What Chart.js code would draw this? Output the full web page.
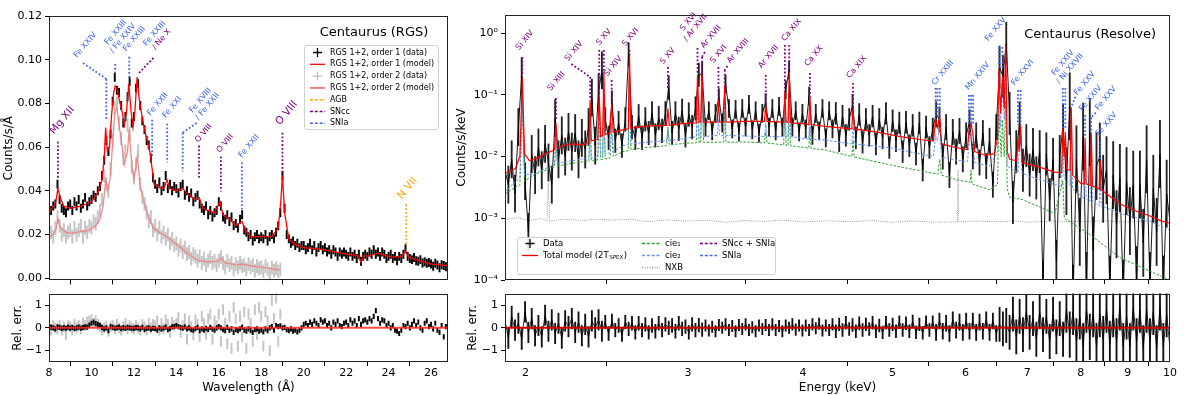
<!DOCTYPE html>
<html>
<head>
<meta charset="utf-8">
<script src="https://cdn.jsdelivr.net/npm/chart.js@4.4.1/dist/chart.umd.min.js"></script>
<style>
  body { margin: 0; background: #fff; width: 1200px; height: 395px; overflow: hidden; }
  canvas { position: absolute; }
</style>
</head>
<body>
<canvas id="lt" width="460" height="290" style="left:0px;top:0px"></canvas>
<canvas id="lb" width="460" height="111" style="left:0px;top:284px"></canvas>
<canvas id="rt" width="755" height="290" style="left:445px;top:0px"></canvas>
<canvas id="rb" width="755" height="111" style="left:445px;top:284px"></canvas>
<script>
Chart.defaults.font.family = '"DejaVu Sans", sans-serif';
Chart.defaults.font.size = 11;
Chart.defaults.color = '#000';

// ---------- RGS panel (left) ----------
const WL0 = 8.0, WL_STEP = 0.1;   // bin grid of the RGS spectra
const rgs1Flux = [
  0.029,0.031,0.033,0.034,0.043,0.036,0.032,0.031,0.030,0.033,
  0.034,0.031,0.035,0.033,0.036,0.032,0.034,0.037,0.033,0.035,
  0.036,0.038,0.037,0.040,0.042,0.047,0.054,0.063,0.058,0.066,
  0.081,0.092,0.086,0.085,0.079,0.071,0.074,0.083,0.090,0.071,
  0.074,0.087,0.089,0.079,0.072,0.068,0.063,0.061,0.055,0.046,
  0.043,0.041,0.044,0.040,0.042,0.047,0.041,0.043,0.040,0.042,
  0.041,0.039,0.042,0.043,0.038,0.040,0.037,0.039,0.035,0.037,
  0.038,0.034,0.032,0.031,0.033,0.029,0.031,0.028,0.030,0.031,
  0.035,0.033,0.028,0.027,0.029,0.026,0.028,0.024,0.025,0.023,
  0.027,0.029,0.022,0.021,0.019,0.020,0.017,0.019,0.020,0.018,
  0.019,0.018,0.020,0.017,0.019,0.020,0.018,0.021,0.024,0.030,
  0.047,0.032,0.020,0.018,0.016,0.017,0.015,0.016,0.014,0.015,
  0.015,0.013,0.014,0.016,0.013,0.015,0.012,0.014,0.015,0.013,
  0.014,0.012,0.013,0.011,0.013,0.012,0.010,0.012,0.011,0.012,
  0.011,0.010,0.012,0.010,0.011,0.009,0.011,0.0078,0.010,0.011,
  0.010,0.012,0.011,0.013,0.011,0.012,0.010,0.012,0.011,0.009,
  0.010,0.011,0.009,0.010,0.008,0.010,0.009,0.011,0.0135,0.010,
  0.009,0.0085,0.0095,0.008,0.0078,0.0085,0.007,0.0075,0.0068,0.0072,
  0.0065,0.0055,0.0068,0.006,0.0048,0.0062,0.0058,0.0052
];
const rgs1Err = 0.0019;
const rgs2Flux = [
  0.017,0.021,0.019,0.023,0.028,0.024,0.020,0.022,0.019,0.021,
  0.022,0.019,0.023,0.020,0.022,0.024,0.019,0.023,0.021,0.024,
  0.023,0.026,0.025,0.028,0.031,0.036,0.047,0.043,0.040,0.050,
  0.063,0.078,0.080,0.071,0.064,0.055,0.058,0.070,0.066,0.051,
  0.046,0.052,0.058,0.043,0.037,0.034,0.030,0.026,0.028,0.022,
  0.024,0.020,0.023,0.019,0.021,0.018,0.020,0.016,0.018,0.015,
  0.016,0.013,0.015,0.012,0.014,0.011,0.012,0.009,0.011,0.010,
  0.008,0.010,0.007,0.009,0.006,0.008,0.0095,0.007,0.008,0.006,
  0.008,0.0095,0.007,0.005,0.008,0.006,0.007,0.004,0.0065,0.005,
  0.007,0.0055,0.006,0.004,0.0065,0.005,0.006,0.0035,0.0055,0.0045,
  0.005,0.003,0.0055,0.004,0.002,0.005,0.0035,0.0045,0.003,0.004
];
const rgs2Err = 0.003;
const rgs1Res = [
  -0.02,0.03,0.0,-0.05,0.04,0.02,-0.03,0.01,-0.02,0.03,
  -0.01,0.02,-0.04,0.0,0.03,-0.02,0.01,0.04,0.03,0.12,
  0.2,0.25,0.18,0.15,0.1,0.02,-0.05,0.0,-0.12,0.05,
  0.02,-0.02,0.0,0.03,-0.04,0.01,-0.03,0.02,0.0,-0.02,
  -0.03,0.01,0.0,-0.05,0.02,-0.08,-0.03,0.0,-0.06,-0.02,
  -0.04,-0.1,0.0,-0.06,-0.02,0.03,-0.08,-0.03,0.04,0.05,
  0.1,0.05,0.02,-0.02,0.04,-0.05,0.0,-0.08,-0.1,-0.04,
  0.02,-0.12,-0.05,-0.1,-0.02,-0.08,0.02,-0.06,-0.1,0.0,
  0.05,0.0,-0.08,-0.12,0.02,-0.1,-0.05,-0.2,-0.08,-0.12,
  -0.05,0.03,-0.1,-0.15,-0.05,-0.12,-0.2,-0.08,-0.05,-0.15,
  -0.1,-0.18,-0.05,-0.12,0.0,0.05,-0.1,0.1,0.05,0.08,
  0.0,0.02,-0.08,-0.12,-0.05,-0.15,-0.1,-0.18,-0.1,0.0,
  0.15,0.2,0.1,0.25,0.15,0.3,0.2,0.1,0.35,0.25,
  0.3,0.1,0.2,0.0,0.25,0.15,0.3,0.1,0.05,0.2,
  0.25,0.1,0.35,0.2,0.3,0.1,0.4,0.15,0.3,0.35,
  0.25,0.4,0.3,0.5,0.75,0.4,0.2,0.35,0.3,0.1,
  0.2,0.0,0.1,-0.1,-0.15,-0.25,-0.1,0.1,0.05,0.2,
  0.0,0.15,0.3,0.1,0.25,0.0,-0.1,0.2,0.3,0.05,
  0.15,-0.05,0.2,-0.1,-0.2,0.1,-0.4,0.05
];
const rgs1ResErr = 0.1;
const rgs2Res = [
  0.05,-0.1,0.1,0.0,-0.05,0.12,-0.1,0.05,-0.3,0.1,
  0.05,-0.1,0.15,0.0,0.1,-0.05,0.2,0.1,0.25,0.3,
  0.35,0.2,0.3,0.15,0.05,-0.1,0.0,0.1,-0.15,0.05,
  0.1,-0.05,0.15,0.0,-0.1,0.05,0.2,-0.05,0.1,0.0,
  -0.05,0.1,0.0,-0.1,0.15,0.05,-0.1,0.2,0.0,0.15,
  0.1,0.3,-0.1,0.2,-0.05,0.35,0.15,-0.2,0.25,0.1,
  0.2,0.45,-0.2,0.1,0.4,-0.5,0.3,0.05,-0.3,0.35,
  0.15,-0.4,0.5,0.2,-0.3,0.4,0.6,-0.5,0.3,0.1,
  0.6,-0.6,0.8,0.2,-0.7,0.5,-0.9,0.9,0.4,-0.8,
  0.5,-0.4,0.7,-0.9,0.6,0.2,-0.6,0.8,-0.3,0.9,
  0.5,-0.8,0.7,0.3,-1.0,1.2,0.4,1.3,-0.6,0.6
];
const rgs2ResErr = 0.22;
const rgsModel1 = [[8.0,0.030],[8.2,0.033],[8.32,0.035],[8.42,0.041],[8.52,0.037],[8.7,0.033],[9.0,0.032],[9.5,0.033],[10.0,0.035],[10.3,0.039],[10.5,0.045],[10.6,0.055],[10.67,0.069],[10.75,0.058],[10.85,0.06],[10.95,0.075],[11.05,0.085],[11.12,0.088],[11.2,0.087],[11.3,0.082],[11.45,0.076],[11.55,0.07],[11.65,0.076],[11.76,0.089],[11.86,0.077],[11.96,0.069],[12.05,0.077],[12.15,0.092],[12.25,0.082],[12.4,0.073],[12.55,0.066],[12.75,0.058],[12.86,0.05],[12.95,0.043],[13.1,0.042],[13.3,0.041],[13.45,0.042],[13.56,0.045],[13.7,0.041],[14.0,0.040],[14.3,0.041],[14.6,0.038],[14.9,0.036],[15.07,0.037],[15.25,0.032],[15.5,0.031],[15.8,0.030],[16.05,0.035],[16.2,0.029],[16.5,0.027],[16.8,0.024],[17.09,0.026],[17.25,0.022],[17.5,0.019],[18.0,0.019],[18.5,0.019],[18.8,0.023],[18.92,0.035],[19.0,0.047],[19.1,0.03],[19.3,0.018],[19.6,0.0155],[20.0,0.014],[21.0,0.013],[22.0,0.011],[22.55,0.0105],[22.7,0.0073],[22.85,0.0105],[23.0,0.010],[23.5,0.0115],[24.0,0.0099],[24.6,0.0098],[24.8,0.0125],[24.95,0.0095],[26.0,0.0064],[26.8,0.0059]];
const rgsModel2 = [[8.0,0.019],[8.2,0.020],[8.32,0.022],[8.42,0.027],[8.55,0.023],[8.8,0.021],[9.0,0.0205],[9.3,0.021],[9.6,0.0215],[9.9,0.022],[10.2,0.024],[10.4,0.027],[10.55,0.033],[10.67,0.045],[10.77,0.040],[10.9,0.047],[11.0,0.062],[11.1,0.075],[11.2,0.078],[11.3,0.070],[11.45,0.060],[11.55,0.052],[11.7,0.058],[11.78,0.068],[11.9,0.052],[12.0,0.045],[12.08,0.050],[12.16,0.056],[12.3,0.042],[12.5,0.034],[12.7,0.028],[12.9,0.023],[13.2,0.021],[13.56,0.019],[13.8,0.017],[14.2,0.014],[14.5,0.0115],[14.8,0.0095],[15.07,0.008],[15.5,0.0075],[16.0,0.0078],[16.1,0.0092],[16.3,0.007],[16.9,0.006],[17.09,0.0065],[17.6,0.0055],[18.4,0.0045],[18.9,0.0037]];
const wlTicks = [8, 10, 12, 14, 16, 18, 20, 22, 24, 26];
const countsTicks = [0, 0.02, 0.04, 0.06, 0.08, 0.10, 0.12];
const relTicks = [-1, 0, 1];

// ---------- Resolve panel (right) ----------
const E0 = 1.9, E1 = 10, N_BINS = 200;   // log-spaced bins
const resolveFlux = [
  0.006,0.0035,0.009,0.0025,0.03,0.2,0.004,0.0006,0.011,0.005,
  0.014,0.006,0.016,0.008,0.0035,0.042,0.009,0.022,0.01,0.025,
  0.012,0.024,0.009,0.02,0.013,0.03,0.09,0.015,0.11,0.25,
  0.04,0.02,0.075,0.018,0.035,0.015,0.04,0.45,0.03,0.02,
  0.045,0.02,0.04,0.024,0.05,0.022,0.042,0.026,0.05,0.13,
  0.024,0.05,0.028,0.055,0.022,0.048,0.03,0.06,0.21,0.22,
  0.03,0.055,0.026,0.05,0.09,0.035,0.15,0.06,0.028,0.058,
  0.025,0.06,0.03,0.07,0.027,0.055,0.024,0.05,0.075,0.03,
  0.06,0.026,0.065,0.03,0.12,0.25,0.03,0.055,0.025,0.05,
  0.028,0.095,0.022,0.05,0.026,0.06,0.02,0.055,0.028,0.05,
  0.018,0.045,0.022,0.04,0.068,0.02,0.048,0.017,0.04,0.022,
  0.045,0.016,0.04,0.02,0.05,0.014,0.038,0.018,0.035,0.012,
  0.036,0.015,0.032,0.011,0.035,0.006,0.03,0.014,0.028,0.048,
  0.04,0.01,0.03,0.005,0.025,0.012,0.026,0.009,0.022,0.036,
  0.01,0.022,0.008,0.024,0.007,0.018,0.0035,0.03,0.28,0.2,
  0.68,0.05,0.0018,0.012,0.035,0.006,0.015,0.005,0.013,0.0045,
  0.012,0.00009,0.011,0.002,0.009,0.0002,0.01,0.032,0.004,0.065,
  0.00005,0.009,0.0006,0.021,0.00008,0.025,0.0003,0.007,0.01,0.003,
  0.006,0.00007,0.005,0.0008,0.0045,0.00006,0.004,0.0009,0.0035,0.0001,
  0.0035,0.0004,0.009,0.00008,0.003,0.0006,0.011,0.00007,0.0025,0.0009
];
const resolveRes = [
  0.3,-0.45,0.5,-0.1,0.2,-0.5,0.7,-0.2,0.4,-0.35,
  0.1,-0.4,0.55,-0.15,0.35,-0.25,0.2,-0.45,0.3,0.05,
  0.4,-0.2,0.25,-0.35,0.15,-0.4,0.3,0.0,0.35,-0.15,
  0.25,-0.25,0.3,-0.1,0.1,-0.3,0.25,-0.05,0.2,-0.2,
  0.2,-0.1,0.15,-0.2,0.1,-0.15,0.2,-0.1,0.15,0.0,
  0.1,-0.15,0.2,-0.05,0.05,-0.2,0.15,-0.1,0.12,-0.08,
  0.1,-0.12,0.05,-0.15,0.12,0.0,0.15,-0.1,0.08,-0.15,
  0.12,-0.05,0.15,-0.1,0.02,-0.15,0.1,-0.05,0.12,-0.1,
  0.15,-0.1,0.08,-0.15,0.1,0.0,0.15,-0.08,0.1,-0.12,
  0.1,-0.1,0.15,-0.02,0.18,-0.12,0.1,-0.1,0.15,-0.15,
  0.15,-0.1,0.22,-0.05,0.12,-0.15,0.2,-0.1,0.15,-0.05,
  0.22,-0.15,0.1,-0.2,0.22,-0.1,0.15,-0.15,0.25,-0.1,
  0.2,-0.15,0.28,-0.2,0.15,-0.22,0.25,-0.1,0.25,-0.2,
  0.3,-0.15,0.2,-0.25,0.35,-0.1,0.25,-0.2,0.3,-0.15,
  0.3,-0.2,0.25,-0.15,0.35,-0.2,0.3,-0.25,0.15,-0.05,
  0.1,-0.2,0.6,-0.4,0.5,-0.3,0.7,-0.2,0.4,-0.5,
  0.7,-0.3,0.5,-0.6,0.6,-0.4,0.4,-0.5,0.8,-0.3,
  0.7,-0.6,0.5,-0.8,0.8,-0.4,0.6,-0.8,0.6,-0.5,
  0.8,-0.7,0.6,-0.6,0.9,-0.8,0.5,-0.8,0.9,-0.6,
  0.8,-0.9,0.8,-0.6,0.7,-0.9,0.9,-0.8,0.6,-0.9
];
// error sizes read per energy band (band edges in keV)
const errBandEdges = [1.9, 2.44, 3.12, 4.33, 5.53, 6.52, 7.68, 10.01];
const fluxErrFactor = [2.0, 1.55, 1.4, 1.5, 1.6, 2.2, 3.5];
const resErrHalf = [0.45, 0.3, 0.25, 0.28, 0.35, 0.75, 1.0];
const totalModel = [[1.90,0.0054],[1.95,0.0064],[1.972,0.01],[1.984,0.19],[1.995,0.011],[2.02,0.0085],[2.06,0.0095],[2.10,0.011],[2.15,0.0128],[2.158,0.035],[2.166,0.0135],[2.20,0.0152],[2.25,0.016],[2.30,0.0155],[2.343,0.017],[2.35,0.082],[2.357,0.018],[2.395,0.019],[2.404,0.10],[2.413,0.021],[2.425,0.022],[2.432,0.235],[2.44,0.023],[2.47,0.024],[2.48,0.072],[2.49,0.025],[2.55,0.027],[2.585,0.028],[2.593,0.44],[2.602,0.029],[2.70,0.031],[2.845,0.032],[2.854,0.06],[2.864,0.032],[2.95,0.034],[3.063,0.035],[3.073,0.21],[3.085,0.036],[3.097,0.036],[3.108,0.21],[3.12,0.036],[3.228,0.036],[3.238,0.082],[3.248,0.036],[3.278,0.036],[3.289,0.144],[3.30,0.036],[3.45,0.037],[3.632,0.037],[3.644,0.068],[3.656,0.037],[3.811,0.036],[3.822,0.112],[3.834,0.036],[3.852,0.036],[3.864,0.235],[3.876,0.035],[4.00,0.034],[4.057,0.033],[4.069,0.092],[4.081,0.033],[4.30,0.030],[4.517,0.028],[4.531,0.061],[4.545,0.028],[4.80,0.025],[5.10,0.021],[5.40,0.0185],[5.54,0.018],[5.569,0.04],[5.594,0.03],[5.627,0.044],[5.65,0.016],[5.85,0.014],[6.03,0.013],[6.052,0.025],[6.084,0.035],[6.115,0.022],[6.14,0.012],[6.30,0.0105],[6.45,0.011],[6.50,0.02],[6.524,0.27],[6.55,0.05],[6.58,0.2],[6.61,0.06],[6.634,0.65],[6.66,0.012],[6.70,0.009],[6.82,0.0085],[6.84,0.02],[6.86,0.012],[6.886,0.032],[6.91,0.008],[7.20,0.0068],[7.50,0.0056],[7.63,0.0055],[7.652,0.03],[7.675,0.01],[7.70,0.025],[7.725,0.0062],[7.79,0.006],[7.815,0.063],[7.84,0.005],[8.0,0.0037],[8.07,0.0036],[8.09,0.02],[8.11,0.0036],[8.19,0.0034],[8.215,0.024],[8.24,0.0033],[8.38,0.003],[8.40,0.0088],[8.42,0.0029],[8.6,0.0023],[8.83,0.0017],[9.2,0.0013],[9.5,0.0011],[9.8,0.0009],[10,0.00083]];
const cie1 = [[1.90,0.0025],[1.972,0.0035],[1.984,0.08],[1.995,0.004],[2.05,0.0052],[2.15,0.0068],[2.158,0.02],[2.166,0.007],[2.25,0.0078],[2.343,0.0085],[2.35,0.04],[2.357,0.0086],[2.395,0.0088],[2.404,0.045],[2.413,0.009],[2.425,0.009],[2.432,0.12],[2.44,0.0092],[2.47,0.0095],[2.48,0.03],[2.49,0.01],[2.55,0.012],[2.585,0.0125],[2.593,0.2],[2.602,0.013],[2.70,0.014],[2.845,0.015],[2.854,0.03],[2.864,0.0155],[3.0,0.0165],[3.063,0.0166],[3.073,0.06],[3.085,0.0167],[3.097,0.0167],[3.108,0.12],[3.12,0.017],[3.278,0.017],[3.289,0.05],[3.30,0.017],[3.45,0.0172],[3.632,0.0166],[3.644,0.025],[3.656,0.0165],[3.811,0.0155],[3.822,0.06],[3.834,0.015],[3.852,0.015],[3.864,0.08],[3.876,0.015],[4.057,0.0137],[4.069,0.03],[4.081,0.0135],[4.22,0.0129],[4.517,0.0100],[4.531,0.018],[4.545,0.0098],[4.98,0.0073],[5.41,0.0057],[5.60,0.0052],[5.627,0.009],[5.65,0.005],[5.87,0.0042],[6.07,0.0038],[6.084,0.006],[6.10,0.0036],[6.37,0.0029],[6.50,0.0035],[6.524,0.05],[6.56,0.01],[6.58,0.04],[6.61,0.01],[6.634,0.08],[6.66,0.003],[6.70,0.0022],[6.92,0.002],[7.50,0.0012],[7.652,0.004],[7.68,0.001],[8.14,0.00058],[8.83,0.00023],[9.5,0.00014],[10,0.0001]];
const cie2 = [[1.90,0.0027],[1.972,0.0045],[1.984,0.09],[1.995,0.005],[2.05,0.0053],[2.15,0.0075],[2.158,0.018],[2.166,0.0078],[2.22,0.0083],[2.343,0.0095],[2.35,0.04],[2.357,0.0096],[2.395,0.0099],[2.404,0.05],[2.413,0.010],[2.425,0.0105],[2.432,0.11],[2.44,0.011],[2.47,0.0115],[2.48,0.035],[2.49,0.012],[2.55,0.015],[2.585,0.0155],[2.593,0.21],[2.602,0.016],[2.70,0.017],[2.845,0.018],[2.854,0.028],[2.864,0.018],[3.063,0.021],[3.073,0.1],[3.085,0.021],[3.097,0.021],[3.108,0.1],[3.12,0.021],[3.228,0.022],[3.238,0.04],[3.248,0.022],[3.278,0.022],[3.289,0.07],[3.30,0.022],[3.632,0.021],[3.644,0.035],[3.656,0.021],[3.811,0.021],[3.822,0.05],[3.834,0.021],[3.852,0.021],[3.864,0.11],[3.876,0.021],[4.057,0.019],[4.069,0.045],[4.081,0.019],[4.22,0.0185],[4.517,0.016],[4.531,0.03],[4.545,0.016],[4.98,0.0138],[5.41,0.0107],[5.54,0.0102],[5.569,0.022],[5.594,0.018],[5.627,0.03],[5.65,0.0098],[5.87,0.0087],[6.03,0.0083],[6.052,0.015],[6.084,0.025],[6.115,0.014],[6.14,0.008],[6.37,0.0069],[6.50,0.012],[6.524,0.2],[6.55,0.03],[6.58,0.15],[6.61,0.04],[6.634,0.45],[6.66,0.007],[6.84,0.0055],[6.886,0.025],[6.91,0.0053],[7.50,0.0035],[7.63,0.0033],[7.652,0.025],[7.675,0.0045],[7.79,0.0035],[7.815,0.05],[7.84,0.003],[8.07,0.0021],[8.09,0.015],[8.11,0.0021],[8.14,0.002],[8.19,0.0019],[8.215,0.018],[8.24,0.0019],[8.38,0.0016],[8.40,0.006],[8.42,0.0016],[8.83,0.0012],[9.5,0.0009],[10,0.00064]];
const nxb = [[1.90,0.00095],[1.96,0.00102],[2.02,0.00091],[2.08,0.00099],[2.11,0.0009],[2.117,0.0037],[2.124,0.0009],[2.2,0.00097],[2.3,0.00092],[2.4,0.00096],[2.5,0.00093],[2.6,0.00097],[2.7,0.00088],[2.85,0.00094],[3.0,0.0009],[3.15,0.00093],[3.3,0.00086],[3.45,0.00092],[3.6,0.00089],[3.8,0.00093],[4.0,0.00087],[4.25,0.00091],[4.5,0.00088],[4.75,0.00092],[5.0,0.00086],[5.25,0.0009],[5.5,0.00087],[5.88,0.00087],[5.89,0.006],[5.90,0.00087],[6.2,0.0009],[6.5,0.00088],[6.8,0.00091],[7.0,0.00086],[7.5,0.0009],[8.0,0.00088],[8.5,0.00091],[9.0,0.00087],[9.5,0.0009],[10,0.00088]];
const energyTicks = [2, 3, 4, 5, 6, 7, 8, 9, 10];
const logTicks = [1e-4, 1e-3, 1e-2, 1e-1, 1];

// line identifications
const P = '#800080', B = '#4169e1', O = '#ffa500';
const rgsLines = [
  {t:['Mg XII'], c:[P], x:[8.42], top:0.0625, bot:[0.046], lx:8.62, ly:0.0648, s:10.5},
  {t:['Fe XXIV'], c:[B], x:[10.70], top:0.0912, bot:[0.0725], lx:9.71, ly:0.1000, ls:[9.60,0.0985]},
  {t:['Fe XXIII','/ Fe XXIV'], c:[B,B], x:[11.12], top:0.098, bot:[0.0926], lx:11.31, ly:0.1022},
  {t:['Fe XXIII'], c:[B], x:[11.78], top:0.1013, bot:[0.0908], lx:12.02, ly:0.103},
  {t:['Fe XXIII','/ Ne X'], c:[B,P], lc:P, x:[12.2], top:0.0935, bot:[0.0935], lx:13.14, ly:0.1027, ls:[12.92,0.1008]},
  {t:['Fe XXII'], c:[B], x:[12.86], top:0.0725, bot:[0.0557], lx:13.12, ly:0.0735},
  {t:['Fe XXI'], c:[B], x:[13.57], top:0.0707, bot:[0.053], lx:13.80, ly:0.0725},
  {t:['Fe XVIII','/ Fe XXII'], c:[B,B], x:[14.30], top:0.0666, bot:[0.0488], lx:15.30, ly:0.0716, ls:[14.96,0.071]},
  {t:['O VIII'], c:[P], x:[15.07], top:0.0607, bot:[0.0452], lx:15.28, ly:0.0612},
  {t:['O VIII'], c:[P], x:[16.10], top:0.0557, bot:[0.0397], lx:16.30, ly:0.0566},
  {t:['Fe XXII'], c:[B], x:[17.09], top:0.053, bot:[0.0315], lx:17.42, ly:0.0543},
  {t:['O VIII'], c:[P], x:[19.0], top:0.0666, bot:[0.0474], lx:19.2, ly:0.0689, s:10.5},
  {t:['N VII'], c:[O], x:[24.83], top:0.0338, bot:[0.0146], lx:24.89, ly:0.0351, s:10.5}
];
const resolveLines = [
  {t:['Si XIV'], c:[P], x:[1.984], top:0.409, bot:[0.209], lx:1.996, ly:0.492},
  {t:['Si XIII'], c:[P], x:[2.158], top:0.0886, bot:[0.039], lx:2.160, ly:0.107},
  {t:['Si XIV'], c:[P], x:[2.35], top:0.194, bot:[0.082], lx:2.257, ly:0.327, ls:[2.243,0.315]},
  {t:['S XV'], c:[P], x:[2.404,2.432], top:0.53, bot:[0.099,0.233], lx:2.432, ly:0.593},
  {t:['Si XIV'], c:[P], x:[2.480], top:0.173, bot:[0.0735], lx:2.49, ly:0.187},
  {t:['S XVI'], c:[P], x:[2.593], top:0.53, bot:[0.44], lx:2.60, ly:0.571},
  {t:['S XV'], c:[P], x:[2.854], top:0.281, bot:[0.129], lx:2.852, ly:0.292},
  {t:['S XVI','/ Ar XVII'], c:[P,P], x:[3.073], top:0.571, bot:[0.209], lx:3.03, ly:0.689},
  {t:['Ar XVII'], c:[P], x:[3.108], top:0.409, bot:[0.209], lx:3.178, ly:0.53, ls:[3.13,0.492]},
  {t:['S XVI'], c:[P], x:[3.238], top:0.281, bot:[0.082], lx:3.24, ly:0.303},
  {t:['Ar XVIII'], c:[P], x:[3.289], top:0.252, bot:[0.144], lx:3.40, ly:0.303, ls:[3.311,0.292]},
  {t:['Ar XVII'], c:[P], x:[3.644], top:0.209, bot:[0.068], lx:3.67, ly:0.252},
  {t:['Ca XIX'], c:[P], x:[3.822,3.864], top:0.64, bot:[0.111,0.233], lx:3.887, ly:0.689},
  {t:['Ca XX'], c:[P], x:[4.069], top:0.225, bot:[0.0922], lx:4.108, ly:0.271},
  {t:['Ca XIX'], c:[P], x:[4.531], top:0.155, bot:[0.061], lx:4.573, ly:0.173},
  {t:['Cr XXIII'], c:[B], x:[5.569,5.594,5.627], top:0.129, bot:[0.042,0.042,0.042], lx:5.67, ly:0.133},
  {t:['Mn XXIV'], c:[B], x:[6.052,6.084,6.115], top:0.099, bot:[0.0323,0.0323,0.0323], lx:6.185, ly:0.111},
  {t:['Fe XXV'], c:[B], x:[6.524,6.58], top:0.593, bot:[0.27,0.27], lx:6.47, ly:0.689},
  {t:['Fe XXVI'], c:[B], x:[6.84,6.886], top:0.119, bot:[0.0323,0.0323], lx:6.92, ly:0.133},
  {t:['Fe XXIV','/ Ni XXVII'], c:[B,B], x:[7.652,7.70], top:0.129, bot:[0.029,0.029], lx:7.72, ly:0.139},
  {t:['Fe XXV'], c:[B], x:[7.815], top:0.064, bot:[0.064], lx:8.08, ly:0.092, ls:[7.897,0.093]},
  {t:['Fe XXIV'], c:[B], x:[8.09], top:0.047, bot:[0.020], lx:8.20, ly:0.0506},
  {t:['Fe XXV'], c:[B], x:[8.215], top:0.0431, bot:[0.024], lx:8.52, ly:0.0526, ls:[8.31,0.0512]},
  {t:['Fe XXV'], c:[B], x:[8.40], top:0.0172, bot:[0.0088], lx:8.53, ly:0.020}
];

// ---------- helpers ----------
const FONT = '"DejaVu Sans", sans-serif';
const wlAt = i => WL0 + i * WL_STEP;
const eAt = i => E0 * Math.pow(E1 / E0, i / (N_BINS - 1));
const bandOf = e => { let k = 0; while (k < errBandEdges.length - 2 && e >= errBandEdges[k + 1]) k++; return k; };
const pairs = arr => arr.map(([x, y]) => ({x, y}));
const errBars = (vals, err, xAt) => vals.map((v, i) => ({x: xAt(i), y: [v - err, v + err]}));
const binned = (vals, xAt) => vals.map((v, i) => ({x: xAt(i), y: v}));
const fluxBars = resolveFlux.map((v, i) => { const f = fluxErrFactor[bandOf(eAt(i))]; return {x: eAt(i), y: [v / f, v * f]}; });
const resBars = resolveRes.map((v, i) => { const h = resErrHalf[bandOf(eAt(i))]; return {x: eAt(i), y: [v - h, v + h]}; });
const tickGrid = () => ({ display: true, drawOnChartArea: false, drawTicks: true, tickLength: 4, color: '#000', lineWidth: 1 });
const fixW = w => s => { s.width = w; };
const fixH = h => s => { s.height = h; };
const setTicks = vals => s => { s.ticks = vals.map(value => ({value})); };
const SUP = {'-4':'⁻⁴','-3':'⁻³','-2':'⁻²','-1':'⁻¹','0':'⁰'};
const relLabel = v => v < 0 ? '\u2212' + (-v) : String(v);

const frame = { id: 'frame', afterDatasetsDraw(chart) {
  const {ctx, chartArea: a} = chart;
  ctx.save();
  ctx.strokeStyle = '#222'; ctx.lineWidth = 1;
  ctx.strokeRect(Math.round(a.left) + 0.5, Math.round(a.top) + 0.5, Math.round(a.right - a.left) - 1, Math.round(a.bottom - a.top) - 1);
  ctx.restore();
}};

function drawLabel(ctx, px, py, lines, colors, size, rot) {
  ctx.save();
  ctx.font = size + 'px ' + FONT;
  const lh = size * 1.15;
  const w = Math.max(...lines.map(s => ctx.measureText(s).width));
  const h = lh * lines.length;
  const a = rot * Math.PI / 180;
  const bh = w * Math.sin(a) + h * Math.cos(a);
  ctx.translate(px, py - bh / 2);
  ctx.rotate(-a);
  ctx.textAlign = 'center'; ctx.textBaseline = 'middle';
  lines.forEach((s, i) => {
    ctx.fillStyle = colors[i];
    ctx.fillText(s, 0, (i - (lines.length - 1) / 2) * lh);
  });
  ctx.restore();
}

function linesPlugin(list, rot, size) {
  return { id: 'idlines', afterDatasetsDraw(chart) {
    const {ctx, scales: {x, y}} = chart;
    ctx.save();
    for (const a of list) {
      ctx.strokeStyle = a.lc || a.c[0];
      ctx.lineWidth = 1.8; ctx.setLineDash([1.8, 2]);
      const ty = y.getPixelForValue(a.top);
      a.x.forEach((xv, i) => {
        const px = x.getPixelForValue(xv);
        const by = y.getPixelForValue(a.bot[i]);
        if (by - ty > 1) { ctx.beginPath(); ctx.moveTo(px, ty); ctx.lineTo(px, by); ctx.stroke(); }
        if (a.ls) {
          ctx.beginPath();
          ctx.moveTo(x.getPixelForValue(a.ls[0]), y.getPixelForValue(a.ls[1]));
          ctx.lineTo(px, ty); ctx.stroke();
        }
      });
      ctx.setLineDash([]);
      drawLabel(ctx, x.getPixelForValue(a.lx), y.getPixelForValue(a.ly), a.t, a.c, a.s || size, rot);
    }
    ctx.restore();
  }};
}

function legendBox(ctx, l, t, w, h) {
  ctx.save();
  ctx.beginPath();
  ctx.roundRect(l + 0.5, t + 0.5, w, h, 2.5);
  ctx.fillStyle = 'rgba(255,255,255,0.85)'; ctx.fill();
  ctx.strokeStyle = '#d0d0d0'; ctx.lineWidth = 1; ctx.stroke();
  ctx.restore();
}

function handle(ctx, e, x0, x1, y) {
  ctx.save();
  ctx.strokeStyle = e.color; ctx.lineWidth = e.w || 1.3;
  ctx.beginPath();
  if (e.kind === 'plus') {
    const cx = (x0 + x1) / 2;
    ctx.moveTo(cx - 4.5, y); ctx.lineTo(cx + 4.5, y);
    ctx.moveTo(cx, y - 4.5); ctx.lineTo(cx, y + 4.5);
  } else {
    if (e.kind === 'dash') ctx.setLineDash([3, 1.8]);
    if (e.kind === 'dot') ctx.setLineDash([1, 1.5]);
    ctx.moveTo(x0, y); ctx.lineTo(x1, y);
  }
  ctx.stroke();
  ctx.restore();
}

const rgsLegend = [
  {label: 'RGS 1+2, order 1 (data)', kind: 'plus', color: '#000'},
  {label: 'RGS 1+2, order 1 (model)', kind: 'line', color: '#ff0000'},
  {label: 'RGS 1+2, order 2 (data)', kind: 'plus', color: '#c0c0c0'},
  {label: 'RGS 1+2, order 2 (model)', kind: 'line', color: '#f08080', w: 2},
  {label: 'AGB', kind: 'dash', color: O, w: 1.6},
  {label: 'SNcc', kind: 'dash', color: P, w: 1.6},
  {label: 'SNIa', kind: 'dash', color: B, w: 1.6}
];
const resolveLegend = [
  {label: 'Data', kind: 'plus', color: '#000', col: 0, row: 0},
  {label: 'Total model (2T', sub: 'SPEX', tail: ')', kind: 'line', color: '#ff0000', col: 0, row: 1},
  {label: 'cie\u2081', kind: 'dash', color: '#2ca02c', col: 1, row: 0},
  {label: 'cie\u2082', kind: 'dash', color: '#6495ed', col: 1, row: 1},
  {label: 'NXB', kind: 'dot', color: '#999', col: 1, row: 2},
  {label: 'SNcc + SNIa', kind: 'dash', color: P, col: 2, row: 0, w: 1.6},
  {label: 'SNIa', kind: 'dash', color: B, col: 2, row: 1, w: 1.6}
];

const rgsDecor = { id: 'rgsDecor', afterDraw(chart) {
  const ctx = chart.ctx;
  ctx.save();
  ctx.font = '13px ' + FONT; ctx.fillStyle = '#000';
  ctx.textAlign = 'center'; ctx.textBaseline = 'middle';
  ctx.fillText('Centaurus (RGS)', 374, 33);
  legendBox(ctx, 304, 45, 134, 84);
  ctx.font = '8px ' + FONT; ctx.textAlign = 'left';
  rgsLegend.forEach((e, i) => {
    const y = 52.5 + i * 11.8;
    handle(ctx, e, 310, 325, y);
    ctx.fillStyle = '#000';
    ctx.fillText(e.label, 330, y);
  });
  ctx.restore();
}};

const resolveDecor = { id: 'resDecor', afterDraw(chart) {
  const ctx = chart.ctx;
  ctx.save();
  ctx.font = '13px ' + FONT; ctx.fillStyle = '#000';
  ctx.textAlign = 'right'; ctx.textBaseline = 'middle';
  ctx.fillText('Centaurus (Resolve)', 711, 35);
  legendBox(ctx, 72, 237, 258, 37);
  const hx = [[77, 93], [197, 215], [255, 272]];
  const tx = [98, 220, 277];
  ctx.textAlign = 'left';
  resolveLegend.forEach(e => {
    const y = 243.5 + e.row * 12;
    handle(ctx, e, hx[e.col][0], hx[e.col][1], y);
    ctx.fillStyle = '#000';
    ctx.font = '8.5px ' + FONT;
    ctx.fillText(e.label, tx[e.col], y);
    if (e.sub) {
      let x = tx[e.col] + ctx.measureText(e.label).width;
      ctx.font = '5.5px ' + FONT;
      ctx.fillText(e.sub, x + 0.5, y + 2.5);
      x += ctx.measureText(e.sub).width + 1;
      ctx.font = '8.5px ' + FONT;
      ctx.fillText(e.tail, x, y);
    }
  });
  ctx.restore();
}};

const baseOpts = pad => ({
  responsive: false, animation: false, events: [],
  layout: { padding: pad },
  plugins: { legend: { display: false }, tooltip: { enabled: false } }
});

// ---------- RGS top ----------
new Chart(document.getElementById('lt'), {
  type: 'line',
  data: { datasets: [
    { type: 'line', data: pairs(rgsModel1), borderColor: '#ff0000', borderWidth: 1.3, pointRadius: 0, order: 0 },
    { type: 'bar', data: errBars(rgs1Flux, rgs1Err, wlAt), backgroundColor: '#000', barThickness: 1.3, grouped: false, order: 1 },
    { type: 'line', data: pairs(rgsModel2), borderColor: 'rgba(240,128,128,0.9)', borderWidth: 1.3, pointRadius: 0, order: 2 },
    { type: 'bar', data: errBars(rgs2Flux, rgs2Err, wlAt), backgroundColor: '#c4c4c4', barThickness: 1.3, grouped: false, order: 3 }
  ]},
  options: Object.assign(baseOpts({ top: 16, right: 12, left: 0, bottom: 0 }), {
    scales: {
      x: { type: 'linear', min: 8, max: 26.8, offset: false, grid: tickGrid(), border: { display: false },
           ticks: { display: false }, afterBuildTicks: setTicks(wlTicks), afterFit: fixH(9) },
      y: { type: 'linear', min: -0.001, max: 0.12, grid: tickGrid(), border: { display: false },
           ticks: { padding: 3, callback: v => v.toFixed(2) }, afterBuildTicks: setTicks(countsTicks), afterFit: fixW(49),
           title: { display: true, text: 'Counts/s/Å', font: { size: 12 }, padding: { top: 2, bottom: 0 } } }
    }
  }),
  plugins: [frame, linesPlugin(rgsLines, 50, 8), rgsDecor]
});

// ---------- RGS residuals ----------
new Chart(document.getElementById('lb'), {
  type: 'line',
  data: { datasets: [
    { type: 'line', data: [{x: 8, y: 0}, {x: 26.8, y: 0}], borderColor: 'rgba(255,40,40,0.85)', borderWidth: 2, pointRadius: 0, order: 0 },
    { type: 'bar', data: errBars(rgs1Res, rgs1ResErr, wlAt), backgroundColor: '#000', barThickness: 1.3, grouped: false, order: 1 },
    { type: 'bar', data: errBars(rgs2Res, rgs2ResErr, wlAt), backgroundColor: '#c4c4c4', barThickness: 1.3, grouped: false, order: 2 }
  ]},
  options: Object.assign(baseOpts({ top: 3, right: 12, left: 0, bottom: 0 }), {
    scales: {
      x: { type: 'linear', min: 8, max: 26.8, offset: false, grid: tickGrid(), border: { display: false },
           ticks: { padding: 1, maxRotation: 0, autoSkip: false, callback: v => String(v) },
           afterBuildTicks: setTicks(wlTicks), afterFit: fixH(33),
           title: { display: true, text: 'Wavelength (Å)', font: { size: 12 }, padding: { top: 0, bottom: 0 } } },
      y: { type: 'linear', min: -1.5, max: 1.5, grid: tickGrid(), border: { display: false },
           ticks: { padding: 3, callback: relLabel }, afterBuildTicks: setTicks(relTicks), afterFit: fixW(49),
           title: { display: true, text: 'Rel. err.', font: { size: 12 }, padding: { top: 11, bottom: 0 } } }
    }
  }),
  plugins: [frame]
});

// ---------- Resolve top ----------
new Chart(document.getElementById('rt'), {
  type: 'line',
  data: { datasets: [
    { data: pairs(totalModel), borderColor: '#ff0000', borderWidth: 1.2, pointRadius: 0, order: 0 },
    { data: pairs(cie2), borderColor: '#6495ed', borderWidth: 1, borderDash: [2.5, 1.5], pointRadius: 0, order: 1 },
    { data: pairs(cie1), borderColor: '#2ca02c', borderWidth: 1, borderDash: [2.5, 1.5], pointRadius: 0, order: 2 },
    { data: binned(resolveFlux, eAt), borderColor: '#000', borderWidth: 0.9, pointRadius: 0, order: 3 },
    { type: 'bar', data: fluxBars, backgroundColor: '#222', barThickness: 1.2, grouped: false, order: 4 },
    { data: pairs(nxb), borderColor: '#9a9a9a', borderWidth: 1, borderDash: [1, 1.2], pointRadius: 0, order: 5 }
  ]},
  options: Object.assign(baseOpts({ top: 15, right: 30, left: 0, bottom: 0 }), {
    scales: {
      x: { type: 'logarithmic', min: E0, max: E1, offset: false, grid: tickGrid(), border: { display: false },
           ticks: { display: false }, afterBuildTicks: setTicks(energyTicks), afterFit: fixH(10) },
      y: { type: 'logarithmic', min: 1e-4, max: 1.96, grid: tickGrid(), border: { display: false },
           ticks: { padding: 3, callback: v => '10' + SUP[String(Math.round(Math.log10(v)))] },
           afterBuildTicks: setTicks(logTicks), afterFit: fixW(60),
           title: { display: true, text: 'Counts/s/keV', font: { size: 12 }, padding: { top: 10, bottom: 0 } } }
    }
  }),
  plugins: [frame, linesPlugin(resolveLines, 50, 8), resolveDecor]
});

// ---------- Resolve residuals ----------
new Chart(document.getElementById('rb'), {
  type: 'line',
  data: { datasets: [
    { data: [{x: E0, y: 0}, {x: E1, y: 0}], borderColor: '#d00000', borderWidth: 2, pointRadius: 0, order: 0 },
    { data: binned(resolveRes, eAt), borderColor: '#000', borderWidth: 0.8, pointRadius: 0, order: 1 },
    { type: 'bar', data: resBars, backgroundColor: '#111', barThickness: 1.2, grouped: false, order: 2 }
  ]},
  options: Object.assign(baseOpts({ top: 3, right: 30, left: 0, bottom: 0 }), {
    scales: {
      x: { type: 'logarithmic', min: E0, max: E1, offset: false, grid: tickGrid(), border: { display: false },
           ticks: { padding: 1, maxRotation: 0, autoSkip: false, callback: v => String(v) },
           afterBuildTicks: setTicks(energyTicks), afterFit: fixH(33),
           title: { display: true, text: 'Energy (keV)', font: { size: 12 }, padding: { top: 0, bottom: 0 } } },
      y: { type: 'linear', min: -1.5, max: 1.5, grid: tickGrid(), border: { display: false },
           ticks: { padding: 3, callback: relLabel }, afterBuildTicks: setTicks(relTicks), afterFit: fixW(60),
           title: { display: true, text: 'Rel. err.', font: { size: 12 }, padding: { top: 21, bottom: 0 } } }
    }
  }),
  plugins: [frame]
});
</script>
</body>
</html>
